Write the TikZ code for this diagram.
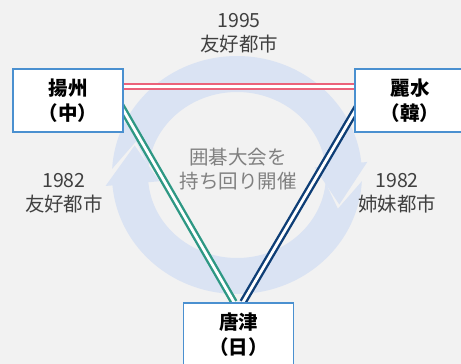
\documentclass[tikz,border=0pt]{standalone}
\usepackage{fontspec}
\newfontfamily\jp{Noto Sans CJK JP}
\pgfdeclarelayer{bg}
\pgfdeclarelayer{lines}
\pgfsetlayers{bg,lines,main}
\definecolor{bgc}{HTML}{F2F2F2}
\definecolor{ringc}{HTML}{DAE3F3}
\definecolor{boxb}{RGB}{74,144,208}
\definecolor{pinkc}{RGB}{236,98,122}
\definecolor{tealc}{RGB}{46,152,132}
\definecolor{navyc}{RGB}{14,62,118}
\definecolor{labc}{HTML}{404040}
\definecolor{midc}{HTML}{808080}
\begin{document}
\begin{tikzpicture}[x=1pt,y=-1pt,
  city/.style={draw=boxb,line width=1.6pt,fill=white,minimum width=110pt,minimum height=63pt,inner sep=0pt,align=center,text=black,font=\jp\bfseries\fontsize{19.5}{25}\selectfont},
  lab/.style={align=center,text=labc,inner sep=0pt,font=\jp\fontsize{19.5}{24}\selectfont},
  link/.style={line width=2.4pt,double=white,double distance=2.8pt}]
\def\cx{237}\def\cy{175}
\useasboundingbox (0,0) rectangle (461,364);
\begin{pgfonlayer}{bg}
\fill[bgc] (0,0) rectangle (461,364);
% top segment (tail on the left, head on the right)
\fill[ringc] plot[domain=183:354,samples=90] ({\cx+125*cos(\x)},{\cy+119*sin(\x)})
  -- ({\cx+131*cos(354)},{\cy+125*sin(354)})
  -- ({\cx+107*cos(17)},{\cy+101*sin(17)})
  -- ({\cx+78*cos(354)},{\cy+72*sin(354)})
  -- plot[domain=354:186,samples=90] ({\cx+89*cos(\x)},{\cy+83*sin(\x)})
  -- ({\cx+107*cos(199.5)},{\cy+101*sin(199.5)}) -- cycle;
% bottom segment (tail on the right, head on the left)
\fill[ringc] plot[domain=3:175,samples=90] ({\cx+125*cos(\x)},{\cy+119*sin(\x)})
  -- ({\cx+132*cos(175)},{\cy+126*sin(175)})
  -- ({\cx+107*cos(197)},{\cy+101*sin(197)})
  -- ({\cx+78*cos(175)},{\cy+72*sin(175)})
  -- plot[domain=175:5.5,samples=90] ({\cx+89*cos(\x)},{\cy+83*sin(\x)})
  -- ({\cx+107*cos(19.5)},{\cy+101*sin(19.5)}) -- cycle;
\end{pgfonlayer}
\node[city] (yz) at (68,100.5) {揚州\\（中）};
\node[city] (ls) at (410,100.5) {麗水\\（韓）};
\node[city] (kt) at (238.5,334.5) {唐津\\（日）};
\begin{pgfonlayer}{lines}
\draw[link,draw=pinkc] ([yshift=14pt]yz.east) -- ([yshift=14pt]ls.west);
\draw[link,draw=tealc] ([xshift=-6pt]yz.east) -- ([xshift=-4.5pt]kt.north);
\draw[link,draw=navyc] ([xshift=7pt]ls.west) -- ([xshift=4.5pt]kt.north);
\end{pgfonlayer}
\node[lab] (t1995) at (239,33) {1995\\友好都市};
\node[lab] (l1982) at (64,193) {1982\\友好都市};
\node[lab] (r1982) at (397,193) {1982\\姉妹都市};
\node[lab,text=midc] (mid) at (238,169) {囲碁大会を\\持ち回り開催};
\end{tikzpicture}
\end{document}
